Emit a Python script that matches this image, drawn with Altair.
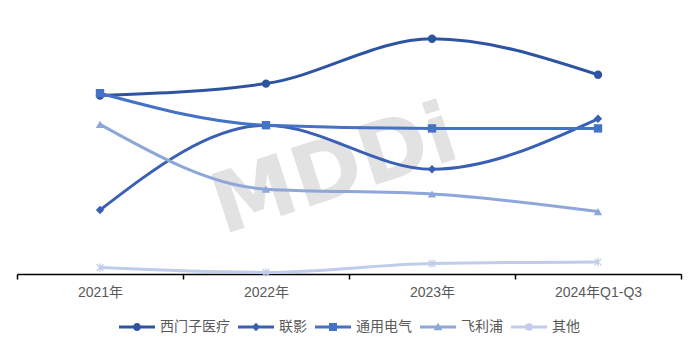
import altair as alt
import pandas as pd

years = ["2021年", "2022年", "2023年", "2024年Q1-Q3"]
series = ["西门子医疗", "联影", "通用电气", "飞利浦", "其他"]
siemens = [22.3, 23.8, 29.4, 24.9]
united = [8.0, 18.6, 13.1, 19.4]
ge = [22.6, 18.6, 18.2, 18.2]
philips = [18.7, 10.6, 10.0, 7.8]
others = [0.8, 0.2, 1.3, 1.5]

colors = ["#2E54A1", "#3A60B5", "#4472C4", "#8EA6D9", "#C0CCEC"]

rows = []
for name, vals in zip(series, [siemens, united, ge, philips, others]):
    for y, v in zip(years, vals):
        rows.append({"year": y, "series": name, "value": v})
df = pd.DataFrame(rows)

FONT = "Liberation Sans, Noto Sans CJK SC"

asterisk = ("M-0.15,-1L0.15,-1L0.15,1L-0.15,1Z"
            "M-0.694,-0.906L0.906,0.694L0.694,0.906L-0.906,-0.694Z"
            "M0.694,-0.906L0.906,-0.694L-0.694,0.906L-0.906,0.694Z")
point_shapes = ["circle", "diamond", "square", "triangle-up", asterisk]

bar = "M-1,-0.08L1,-0.08L1,0.08L-1,0.08Z"
legend_shapes = [
    bar + "M-0.22,0A0.22,0.22 0 1,1 0.22,0A0.22,0.22 0 1,1 -0.22,0Z",
    bar + "M0,-0.24L0.24,0L0,0.24L-0.24,0Z",
    bar + "M-0.22,-0.22L0.22,-0.22L0.22,0.22L-0.22,0.22Z",
    bar + "M0,-0.24L0.24,0.18L-0.24,0.18Z",
    bar + "M-0.05,-0.22L0.05,-0.22L0.05,0.22L-0.05,0.22Z"
          "M-0.135,-0.205L0.205,0.135L0.135,0.205L-0.205,-0.135Z"
          "M0.135,-0.205L0.205,-0.135L-0.135,0.205L-0.205,0.135Z",
]

x_enc = alt.X("year:N", sort=years,
              scale=alt.Scale(type="band", domain=years, paddingInner=0, paddingOuter=0),
              axis=alt.Axis(title=None, labelAngle=0, tickBand="extent", grid=False))
y_enc = alt.Y("value:Q", scale=alt.Scale(domain=[0, 33.5]), axis=None)
color_scale = alt.Scale(domain=series, range=colors)

leg_def = alt.Legend(title=None, orient="none", legendX=102, legendY=303,
                     direction="horizontal", columns=5)
color_enc = alt.Color("series:N", scale=color_scale, legend=leg_def)

watermark = alt.Chart(pd.DataFrame({"t": ["MDDi"]})).mark_text(
    font="DejaVu Sans", fontWeight="bold", fontSize=84, color="#E2E2E2",
    angle=342, align="center", baseline="middle"
).encode(text="t:N", x=alt.value(318), y=alt.value(166))

lines = alt.Chart(df).mark_line(strokeWidth=3, interpolate="monotone").encode(
    x=x_enc, y=y_enc, color=color_enc, detail="series:N",
)

point_layers = []
for name, shp in zip(series, point_shapes):
    point_layers.append(
        alt.Chart(df).transform_filter(alt.datum.series == name).mark_point(
            filled=True, opacity=1, size=70, shape=shp
        ).encode(x=x_enc, y=y_enc, color=color_enc)
    )

legend_layer = alt.Chart(df).transform_filter("false").mark_point(
    filled=True, opacity=1, strokeWidth=0
).encode(
    color=color_enc,
    shape=alt.Shape("series:N", scale=alt.Scale(domain=series, range=legend_shapes), legend=leg_def),
)

chart = alt.layer(watermark, lines, *point_layers, legend_layer).properties(
    width=664, height=268,
    autosize=alt.AutoSizeParams(type="none"),
    padding={"left": 17, "top": 6, "right": 19, "bottom": 78},
).configure_view(stroke=None).configure_axis(
    domainColor="#000000", domainWidth=1.5, tickColor="#000000", tickWidth=1.5,
    tickSize=5, labelFontSize=14, labelColor="#595959", labelPadding=6, labelFont=FONT,
).configure_legend(
    symbolSize=1296, labelFontSize=14, labelColor="#595959", labelFont="Noto Sans CJK SC",
    labelOffset=5, columnPadding=8, padding=0, symbolStrokeWidth=0,
)

chart.save("out.html", embed_options={"renderer": "svg", "actions": False})
